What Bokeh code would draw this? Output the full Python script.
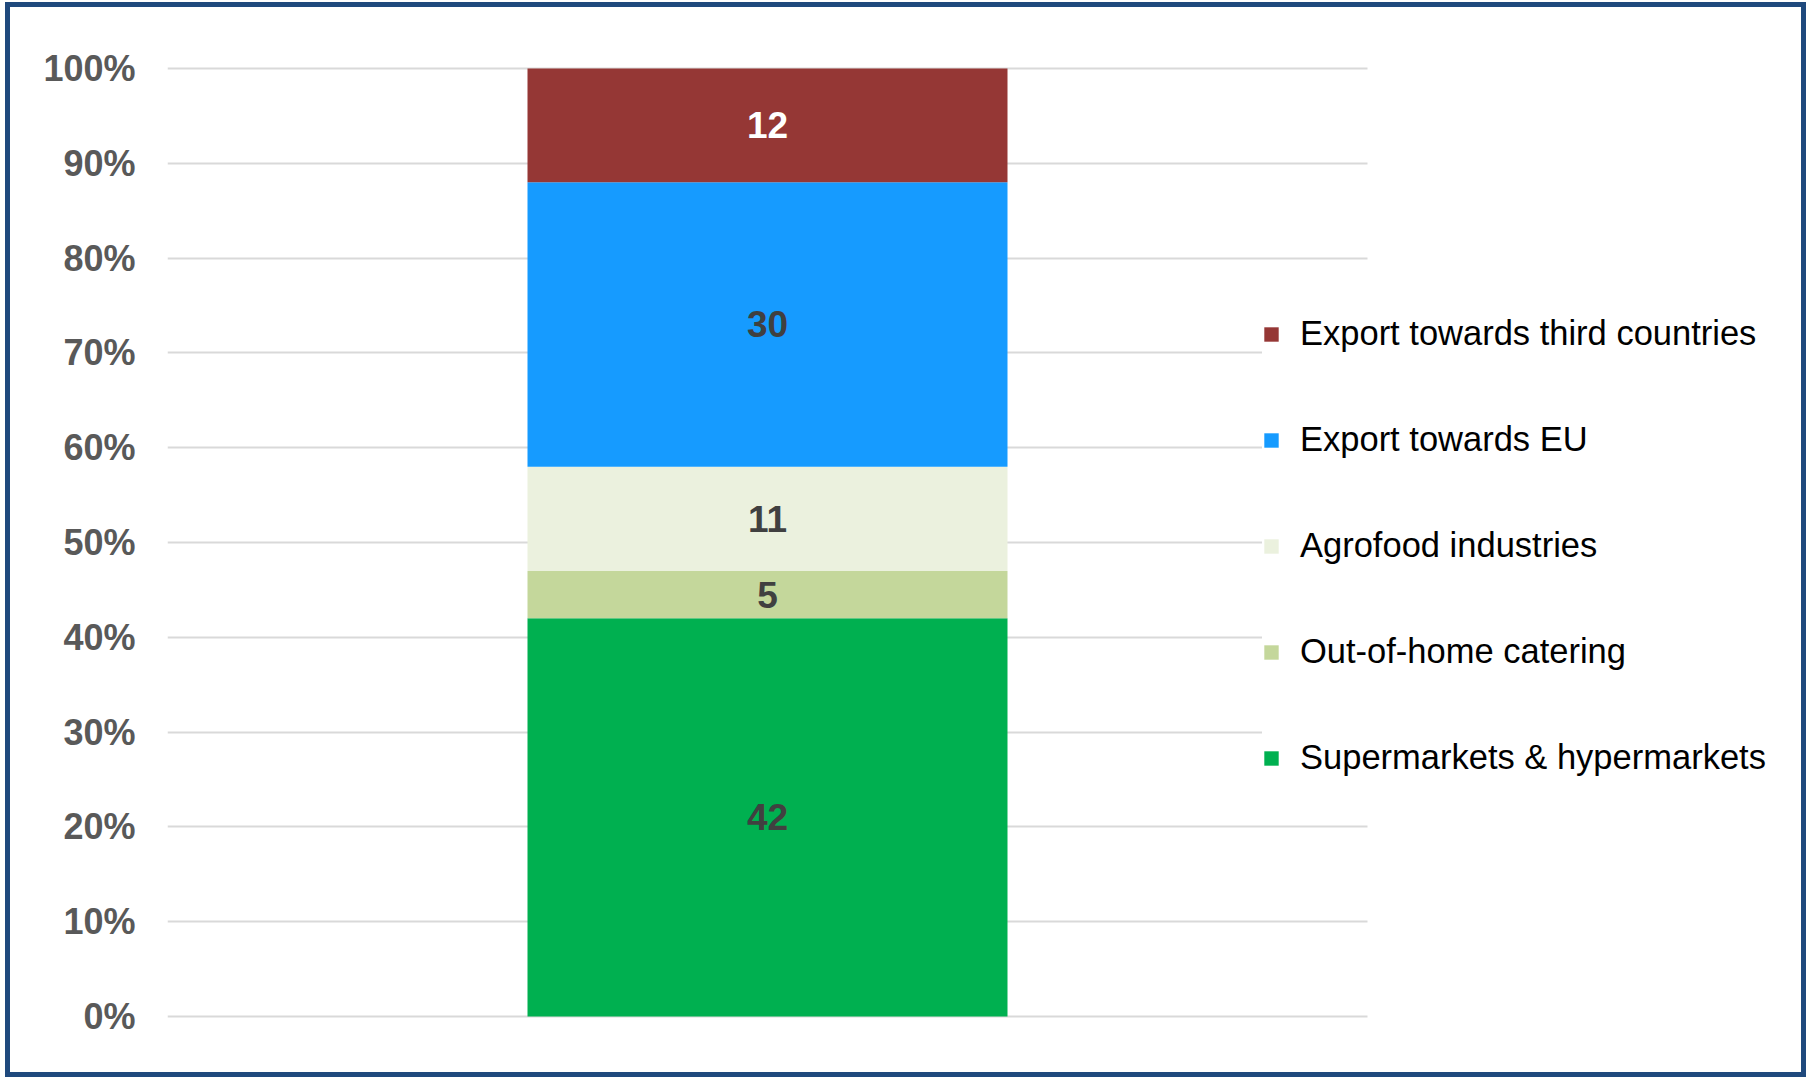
import numpy as np
from bokeh.plotting import figure
from bokeh.models import ColumnDataSource, Range1d, FixedTicker, Legend, LegendItem
from bokeh.core.properties import value
from bokeh.embed import file_html
from bokeh.resources import INLINE

# ---- data ----
category_pos = [0]
series = ["Supermarkets & hypermarkets", "Out-of-home catering", "Agrofood industries",
          "Export towards EU", "Export towards third countries"]
shares = [42, 5, 11, 30, 12]
colors = ["#00B050", "#C4D79B", "#EBF1DE", "#169BFF", "#953735"]
label_colors = ["#404040", "#404040", "#404040", "#404040", "#FFFFFF"]
y_ticks = [0, 10, 20, 30, 40, 50, 60, 70, 80, 90, 100]
y_tick_labels = ["0%", "10%", "20%", "30%", "40%", "50%", "60%", "70%", "80%", "90%", "100%"]

FONT = "Liberation Sans"

W, H = 1801, 1075
BL, BR, BT, BB = 157, 15, 59, 64
frame_w = W - BL - BR
# one category slot = 1200 px wide
x_end = -0.5 + frame_w / 1200.0

p = figure(x_range=Range1d(-0.5, x_end), y_range=Range1d(-0.2, 100.2),
           width=W, height=H, output_backend="svg", toolbar_location=None,
           title=None, min_border_left=BL, min_border_right=BR,
           min_border_top=BT, min_border_bottom=BB)
p.styles = {"border": "5px solid #1F497D", "margin": "2px 0px 0px 5px"}
p.outline_line_color = None
p.background_fill_color = "white"
p.border_fill_color = "white"

src = ColumnDataSource(dict(x=category_pos, **{s: [v] for s, v in zip(series, shares)}))
renderers = p.vbar_stack(series, x="x", width=0.4, source=src, color=colors, line_color=None)

# data labels at the middle of each segment
tops = np.cumsum(shares)
mids = tops - np.array(shares) / 2.0
lab_src = ColumnDataSource(dict(x=category_pos * len(shares), y=mids,
                                text=[str(v) for v in shares], c=label_colors))
p.text(x="x", y="y", text="text", source=lab_src, text_color="c",
       text_align="center", text_baseline="middle", text_font=value(FONT),
       text_font_size="37px", text_font_style="bold")

# axes
p.xaxis.visible = False
p.xgrid.visible = False
ya = p.yaxis[0]
ya.ticker = FixedTicker(ticks=y_ticks)
ya.major_label_overrides = {t: l for t, l in zip(y_ticks, y_tick_labels)}
ya.axis_line_color = None
ya.major_tick_line_color = None
ya.minor_tick_line_color = None
ya.major_label_standoff = 26
ya.major_label_text_font = FONT
ya.major_label_text_font_size = "36px"
ya.major_label_text_font_style = "bold"
ya.major_label_text_color = "#595959"
p.ygrid.grid_line_color = "#D9D9D9"
p.ygrid.grid_line_width = 2
p.ygrid.ticker = FixedTicker(ticks=y_ticks)
p.ygrid.cross_bounds = (-0.5, 0.5)

# legend (top series first)
items = [LegendItem(label=s, renderers=[r]) for s, r in zip(series, renderers)][::-1]
legend = Legend(items=items, location=(1095, 241), orientation="vertical",
                glyph_width=18, glyph_height=18, label_standoff=20,
                label_text_font=FONT, label_text_font_size="34.5px", label_text_color="#000000",
                spacing=67, padding=0, margin=0, border_line_color=None,
                background_fill_color="white", background_fill_alpha=1.0)
p.add_layout(legend)

open("out.html", "w").write(file_html(p, INLINE))
